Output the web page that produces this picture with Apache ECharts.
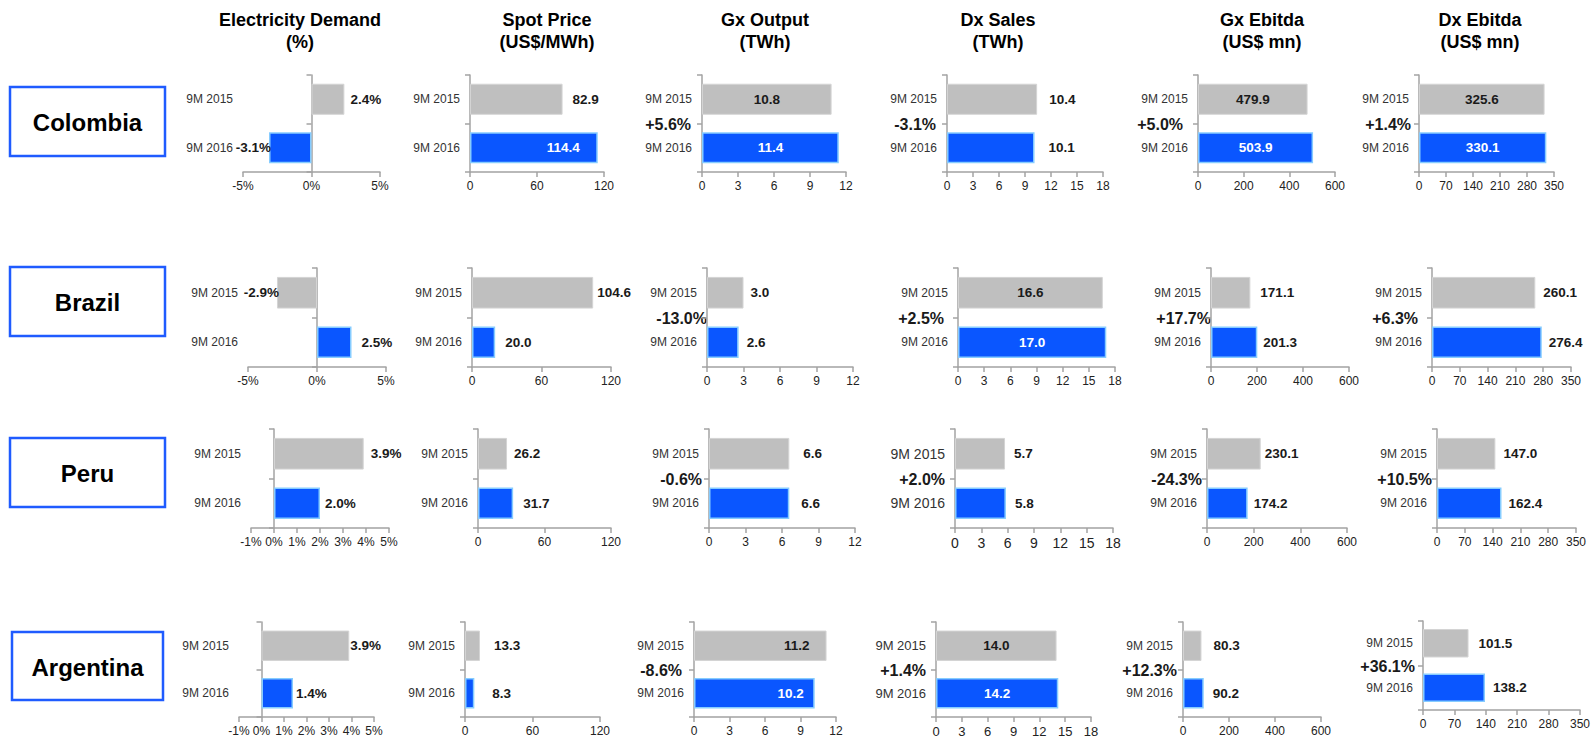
<!DOCTYPE html>
<html>
<head>
<meta charset="utf-8">
<title>9M 2016 vs 9M 2015 by country</title>
<script src="https://cdn.jsdelivr.net/npm/echarts@6/dist/echarts.min.js"></script>
<style>
  html, body { margin: 0; padding: 0; background: #fff; }
  #main { width: 1591px; height: 739px; }
</style>
</head>
<body>
<div id="main"></div>
<script>
// ---- data ----
const periods = ['9M 2015', '9M 2016'];
const countries = ['Colombia', 'Brazil', 'Peru', 'Argentina'];
const metricTitles = [
  ['Electricity Demand', '(%)'],
  ['Spot Price', '(US$/MWh)'],
  ['Gx Output', '(TWh)'],
  ['Dx Sales', '(TWh)'],
  ['Gx Ebitda', '(US$ mn)'],
  ['Dx Ebitda', '(US$ mn)']
];

// one pair per country: [9M 2015, 9M 2016]
const electricityDemand = [[2.4, -3.1], [-2.9, 2.5], [3.9, 2.0], [3.9, 1.4]];
const spotPrice = [[82.9, 114.4], [104.6, 20.0], [26.2, 31.7], [13.3, 8.3]];
const gxOutput = [[10.8, 11.4], [3.0, 2.6], [6.6, 6.6], [11.2, 10.2]];
const dxSales = [[10.4, 10.1], [16.6, 17.0], [5.7, 5.8], [14.0, 14.2]];
const gxEbitda = [[479.9, 503.9], [171.1, 201.3], [230.1, 174.2], [80.3, 90.2]];
const dxEbitda = [[325.6, 330.1], [260.1, 276.4], [147.0, 162.4], [101.5, 138.2]];

// year-on-year change per country
const gxOutputChange = ['+5.6%', '-13.0%', '-0.6%', '-8.6%'];
const dxSalesChange = ['-3.1%', '+2.5%', '+2.0%', '+1.4%'];
const gxEbitdaChange = ['+5.0%', '+17.7%', '-24.3%', '+12.3%'];
const dxEbitdaChange = ['+1.4%', '+6.3%', '+10.5%', '+36.1%'];

// x-axis tick values
const demandTicksWide = [-5, 0, 5];
const demandTicksNarrow = [-1, 0, 1, 2, 3, 4, 5];
const spotTicks = [0, 60, 120];
const gxOutputTicks = [0, 3, 6, 9, 12];
const dxSalesTicks = [0, 3, 6, 9, 12, 15, 18];
const gxEbitdaTicks = [0, 200, 400, 600];
const dxEbitdaTicks = [0, 70, 140, 210, 280, 350];

const metricValues = [electricityDemand, spotPrice, gxOutput, dxSales, gxEbitda, dxEbitda];
const metricChanges = [null, null, gxOutputChange, dxSalesChange, gxEbitdaChange, dxEbitdaChange];
const metricTicks = [
  [demandTicksWide, demandTicksWide, demandTicksNarrow, demandTicksNarrow],
  spotTicks, gxOutputTicks, dxSalesTicks, gxEbitdaTicks, dxEbitdaTicks
];

// ---- layout ----
const FONT = "'Liberation Sans', Arial, Helvetica, sans-serif";
const GRAY = '#BFBFBF', GRAY_EDGE = '#D4D4D4';
const BLUE = '#0A56FF', BLUE_EDGE = '#86CCFF';
const AXIS = '#A3A3A3';
const INK = '#1a1a1a';

const rowBands = [[75, 172], [268, 367], [429, 528], [622, 717]];
const panelSpans = [
  [[243, 380], [470, 604], [702, 846], [947, 1103], [1198, 1335], [1419, 1554]],
  [[248, 386], [472, 611], [707, 853], [958, 1115], [1211, 1349], [1432, 1571]],
  [[251, 389], [478, 611], [709, 855], [955, 1113], [1207, 1347], [1437, 1576]],
  [[239, 374], [465, 600], [694, 836], [936, 1091], [1183, 1321], [1423, 1580]]
];
const bandOverride = { '3-5': [621, 710] };
// o = outside end, i = centred inside, r = inside right end
const labelPlacement = [
  ['oo', 'or', 'ii', 'oo', 'ii', 'ii'],
  ['oo', 'oo', 'oo', 'ii', 'oo', 'oo'],
  ['oo', 'oo', 'oo', 'oo', 'oo', 'oo'],
  ['oo', 'oo', 'rr', 'ii', 'oo', 'oo']
];
const labelGap = [
  [[6, -2], [10, 18], [0, 0], [12, 14], [0, 0], [0, 0]],
  [[-2, 10], [4, 10], [7, 8], [0, 0], [10, 6], [8, 7]],
  [[7, 5], [7, 10], [14, 12], [9, 9], [4, 6], [8, 7]],
  [[1, 3], [14, 18], [17, 11], [0, 0], [12, 9], [10, 8]]
];
const changeGap = [
  [0, 0, 11, 11, 15, 8],
  [0, 0, 0, 14, 0, 14],
  [0, 0, 7, 10, 5, 5],
  [0, 0, 12, 10, 6, 8]
];
const axisFont = { '2-3': 14, '3-3': 13 };
const titleCenters = [300, 547, 765, 998, 1262, 1480];
const countryBoxes = [[10, 87, 155, 69], [10, 267, 155, 69], [10, 438, 155, 69], [12, 632, 151, 68]];

const chart = echarts.init(document.getElementById('main'), null, { renderer: 'svg' });

const grids = [], xAxes = [], yAxes = [], series = [], graphics = [];

countries.forEach((country, r) => {
  metricValues.forEach((values, c) => {
    const k = grids.length;
    const key = r + '-' + c;
    const band = bandOverride[key] || rowBands[r];
    const span = panelSpans[r][c];
    const ticks = c === 0 ? metricTicks[0][r] : metricTicks[c];
    const fs = axisFont[key] || 12;
    const isPct = c === 0;

    grids.push({
      left: span[0], top: band[0],
      width: span[1] - span[0], height: band[1] - band[0],
      containLabel: false, outerBoundsMode: 'none'
    });

    xAxes.push({
      gridIndex: k, type: 'value',
      min: ticks[0], max: ticks[ticks.length - 1], interval: ticks[1] - ticks[0],
      axisLine: { show: true, onZero: false, lineStyle: { color: AXIS, width: 1.5 } },
      axisTick: { show: true, length: 5, lineStyle: { color: AXIS, width: 1.5 } },
      splitLine: { show: false },
      axisLabel: {
        margin: 8, fontSize: fs, color: '#222', fontFamily: FONT,
        formatter: v => isPct ? v + '%' : String(v)
      }
    });

    // axis line and ticks sit on the zero value
    yAxes.push({
      gridIndex: k, type: 'category', data: periods, inverse: true,
      axisLine: { show: true, onZero: true, lineStyle: { color: AXIS, width: 1.5 } },
      axisTick: { show: true, length: 5, lineStyle: { color: AXIS, width: 1.5 } },
      axisLabel: { show: false }, splitLine: { show: false }
    });
    // period names stay on the left edge of the panel
    yAxes.push({
      gridIndex: k, type: 'category', data: periods, inverse: true, position: 'left',
      axisLine: { show: false, onZero: false }, axisTick: { show: false },
      splitLine: { show: false },
      axisLabel: { margin: 10, fontSize: fs, color: '#333', fontFamily: FONT }
    });

    const codes = labelPlacement[r][c];
    const gaps = labelGap[r][c];
    const data = values[r].map((v, i) => {
      const code = codes[i];
      let position, color;
      if (code === 'o') {
        position = v < 0 ? 'left' : 'right';
        color = INK;
      } else if (code === 'r') {
        position = 'insideRight';
        color = i === 1 ? '#fff' : INK;
      } else {
        position = 'inside';
        color = i === 1 ? '#fff' : INK;
      }
      return {
        value: v,
        itemStyle: i === 0
          ? { color: GRAY, borderColor: GRAY_EDGE, borderWidth: 1 }
          : { color: BLUE, borderColor: BLUE_EDGE, borderWidth: 1.5 },
        label: {
          show: true, position, distance: gaps[i], color,
          fontSize: 13.5, fontWeight: 'bold', fontFamily: FONT,
          formatter: p => p.value.toFixed(1) + (isPct ? '%' : '')
        }
      };
    });

    series.push({
      type: 'bar', xAxisIndex: k, yAxisIndex: 2 * k,
      barWidth: '64%', data, silent: true, animation: false
    });

    const changes = metricChanges[c];
    if (changes) {
      graphics.push({
        type: 'text', silent: true,
        x: span[0] - changeGap[r][c], y: (band[0] + band[1]) / 2 + 1,
        style: {
          text: changes[r], fill: INK, font: 'bold 16px ' + FONT,
          align: 'right', verticalAlign: 'middle',
          textAlign: 'right', textVerticalAlign: 'middle'
        }
      });
    }
  });

  const box = countryBoxes[r];
  graphics.push({
    type: 'rect', silent: true,
    shape: { x: box[0], y: box[1], width: box[2], height: box[3] },
    style: { fill: '#fff', stroke: '#1F5BFF', lineWidth: 2.5 }
  });
  graphics.push({
    type: 'text', silent: true,
    x: box[0] + box[2] / 2, y: box[1] + box[3] / 2 + 1,
    style: {
      text: country, fill: '#000', font: 'bold 24px ' + FONT,
      align: 'center', verticalAlign: 'middle',
      textAlign: 'center', textVerticalAlign: 'middle'
    }
  });
});

metricTitles.forEach((lines, c) => {
  lines.forEach((line, j) => {
    graphics.push({
      type: 'text', silent: true,
      x: titleCenters[c], y: 20 + j * 22,
      style: {
        text: line, fill: '#000', font: 'bold 18px ' + FONT,
        align: 'center', verticalAlign: 'middle',
        textAlign: 'center', textVerticalAlign: 'middle'
      }
    });
  });
});

chart.setOption({
  backgroundColor: '#fff',
  animation: false,
  grid: grids,
  xAxis: xAxes,
  yAxis: yAxes,
  series,
  graphic: { elements: graphics }
});
</script>
</body>
</html>
